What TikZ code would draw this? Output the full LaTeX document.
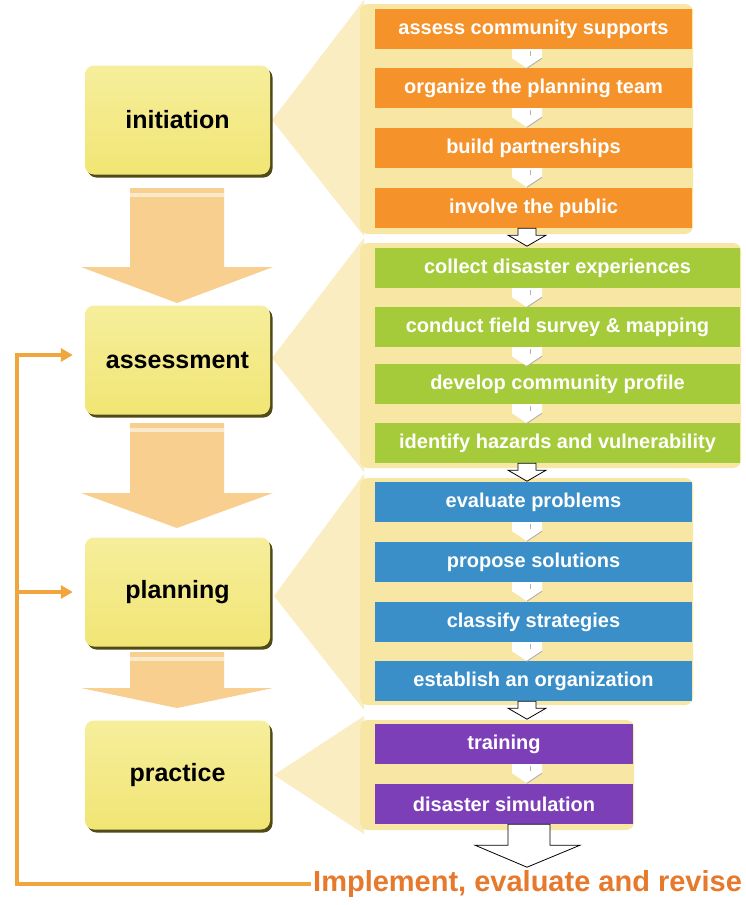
\documentclass[tikz,border=0pt]{standalone}
\usepackage{fontspec}
\setmainfont{Liberation Sans}
\usetikzlibrary{shadows,arrows.meta,calc}
\definecolor{cream}{HTML}{FAEDC2}
\definecolor{band}{HTML}{F8E6A4}
\definecolor{bigarr}{HTML}{F8CF8F}
\definecolor{boxyel}{HTML}{F1E574}
\definecolor{boxtop}{HTML}{F6EE9C}
\definecolor{boxshadow}{HTML}{4F4A18}
\definecolor{corange}{HTML}{F5922A}
\definecolor{cgreen}{HTML}{A6CB3A}
\definecolor{cblue}{HTML}{3A8FC8}
\definecolor{cpurple}{HTML}{7C3FB8}
\definecolor{fbline}{HTML}{F0A63C}
\definecolor{impltext}{HTML}{E6792B}
\newcommand\bigarrow[3]{%
  \fill[bigarr] (130,#1) -- (224,#1) -- (224,#2) -- (273,#2) -- (177,#3) -- (81,#2) -- (130,#2) -- cycle;
  \fill[white,opacity=.55] (130,#1+5) rectangle (224,#1+9);}
\newcommand\chev[1]{%
  \fill[white] (cx |- #1.south) ++(-15,0) -- ++(30,0) -- ++(0,9) -- ++(-15,10) -- ++(-15,-10) -- cycle;
  \draw[gray!60,line width=1pt] (cx |- #1.south) ++(15,9) -- ++(-15,10);
  \draw[gray!60,line width=0.8pt] (cx |- #1.south) ++(3,2) -- ++(0,5);}
\newcommand\outarr[1]{%
  \draw[black,fill=white,line width=0.8pt,line join=miter] (cx |- #1.south) ++(-9,0) -- ++(18,0) -- ++(0,7) -- ++(10,0) -- ++(-19,11) -- ++(-19,-11) -- ++(10,0) -- cycle;}
\begin{document}
\begin{tikzpicture}[x=1pt,y=-1pt,
  phase/.style={rounded corners=9pt, minimum width=185pt, minimum height=109pt,
    top color=boxtop, bottom color=boxyel,
    general shadow={fill=boxshadow, shadow xshift=2.5pt, shadow yshift=-3pt},
    font=\fontsize{25}{30}\selectfont\bfseries, text=black, inner sep=0pt},
  task/.style={minimum height=40pt, inner sep=0pt, text=white,
    font=\fontsize{20}{24}\selectfont\bfseries},
  otask/.style={task, fill=corange, minimum width=317pt},
  gtask/.style={task, fill=cgreen, minimum width=365pt},
  btask/.style={task, fill=cblue, minimum width=317pt},
  ptask/.style={task, fill=cpurple, minimum width=258pt},
  fbl/.style={draw=fbline, line width=3.5pt},
  impl/.style={text=impltext, font=\fontsize{29}{34}\selectfont\bfseries, inner xsep=2pt, inner ysep=0pt, anchor=west}
]
\useasboundingbox (0,0) rectangle (746,905);
\fill[white] (0,0) rectangle (746,905);
\coordinate (cx) at (527,0);

% wedges and group backgrounds
\fill[cream] (272,120) -- (364,0) -- (364,236) -- cycle;
\fill[cream] (272,358) -- (364,238) -- (364,472) -- cycle;
\fill[cream] (274,596) -- (364,474) -- (364,710) -- cycle;
\fill[cream] (274,775) -- (364,716) -- (364,834) -- cycle;
\fill[band,rounded corners=8pt] (360,4) rectangle (693,234);
\fill[band,rounded corners=8pt] (360,243) rectangle (741,468);
\fill[band,rounded corners=8pt] (360,478) rectangle (693,705);
\fill[band,rounded corners=8pt] (360,720) rectangle (634,830);

% big arrows between phases
\bigarrow{188}{267}{303}
\bigarrow{423}{493}{528}
\bigarrow{652}{688}{708}

% phases
\node[phase] (init) at (177.5,120) {initiation};
\node[phase] (assess) at (177.5,360) {assessment};
\node[phase] (plan) at (177.5,592) {planning};
\node[phase] (prac) at (177.5,775) {practice};

% tasks
\node[otask] (o1) at (533.5,29) {assess community supports};
\node[otask] (o2) at (533.5,88) {organize the planning team};
\node[otask] (o3) at (533.5,148) {build partnerships};
\node[otask] (o4) at (533.5,208) {involve the public};
\node[gtask] (g1) at (557.5,268) {collect disaster experiences};
\node[gtask] (g2) at (557.5,327) {conduct field survey \& mapping};
\node[gtask] (g3) at (557.5,384) {develop community profile};
\node[gtask] (g4) at (557.5,443) {identify hazards and vulnerability};
\node[btask] (b1) at (533.5,502) {evaluate problems};
\node[btask] (b2) at (533.5,562) {propose solutions};
\node[btask] (b3) at (533.5,622) {classify strategies};
\node[btask] (b4) at (533.5,681) {establish an organization};
\node[ptask] (p1) at (504,744) {training};
\node[ptask] (p2) at (504,804) {disaster simulation};

% small arrows inside groups
\chev{o1}\chev{o2}\chev{o3}
\chev{g1}\chev{g2}\chev{g3}
\chev{b1}\chev{b2}\chev{b3}
\chev{p1}

% outline arrows between groups
\outarr{o4}\outarr{g4}\outarr{b4}
\draw[black,fill=white,line width=0.8pt,line join=miter] (cx |- p2.south) ++(-19,0) -- ++(42,0) -- ++(0,21) -- ++(30,0) -- ++(-53,22) -- ++(-52,-22) -- ++(33,0) -- cycle;

% feedback loop
\node[impl] (impl) at (311,884) {Implement, evaluate and revise};
\coordinate (fb) at (17,884);
\draw[fbl] (impl.west) -- (fb) -- (fb |- plan.west);
\draw[fbl,-{Triangle[length=12pt,width=13pt]},shorten >=12pt] (fb |- plan.west) -- (plan.west);
\draw[fbl,-{Triangle[length=12pt,width=13pt]},shorten >=12pt] (fb |- plan.west) |- ([yshift=5pt]assess.west);
\end{tikzpicture}
\end{document}
